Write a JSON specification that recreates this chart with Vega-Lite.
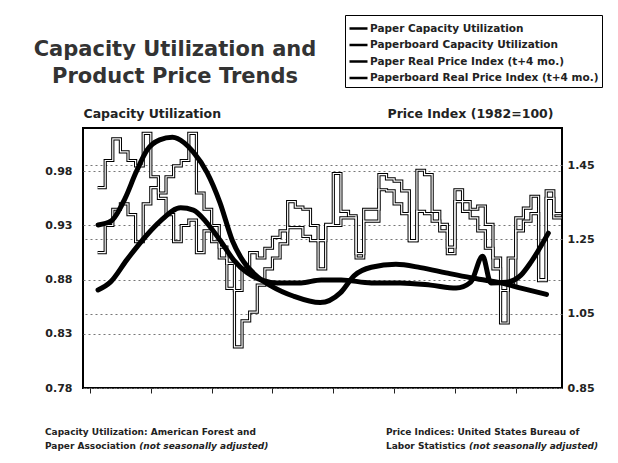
{
  "$schema": "https://vega.github.io/schema/vega-lite/v6.json",
  "width": 479,
  "height": 260,
  "autosize": {"type": "none"},
  "padding": {"left": 83, "top": 128, "right": 56, "bottom": 75},
  "background": "white",
  "title": {
    "text": ["Capacity Utilization and", "Product Price Trends"],
    "anchor": "start", "align": "center", "dx": 92, "frame": "group",
    "font": "DejaVu Sans", "fontSize": 21, "fontWeight": "bold", "color": "#333",
    "lineHeight": 27, "offset": 4, "dy": 76
  },
  "datasets": {
    "cap": [
      {"t": 1994.5, "board": 0.965, "paper": 0.905},
      {"t": 1994.5833, "board": 0.99, "paper": 0.93},
      {"t": 1994.6667, "board": 1.01, "paper": 0.945},
      {"t": 1994.75, "board": 0.998, "paper": 0.95},
      {"t": 1994.8333, "board": 0.99, "paper": 0.94},
      {"t": 1994.9167, "board": 0.985, "paper": 0.915},
      {"t": 1995.0, "board": 1.015, "paper": 0.95},
      {"t": 1995.0833, "board": 0.975, "paper": 0.965},
      {"t": 1995.1667, "board": 0.96, "paper": 0.955},
      {"t": 1995.25, "board": 0.975, "paper": 0.94},
      {"t": 1995.3333, "board": 0.985, "paper": 0.915},
      {"t": 1995.4167, "board": 0.99, "paper": 0.93},
      {"t": 1995.5, "board": 1.015, "paper": 0.935},
      {"t": 1995.5833, "board": 0.96, "paper": 0.905},
      {"t": 1995.6667, "board": 0.945, "paper": 0.925},
      {"t": 1995.75, "board": 0.93, "paper": 0.915},
      {"t": 1995.8333, "board": 0.91, "paper": 0.9},
      {"t": 1995.9167, "board": 0.895, "paper": 0.872},
      {"t": 1996.0, "board": 0.87, "paper": 0.818},
      {"t": 1996.0833, "board": 0.89, "paper": 0.842},
      {"t": 1996.1667, "board": 0.905, "paper": 0.85},
      {"t": 1996.25, "board": 0.9, "paper": 0.875},
      {"t": 1996.3333, "board": 0.909, "paper": 0.89},
      {"t": 1996.4167, "board": 0.919, "paper": 0.9},
      {"t": 1996.5, "board": 0.925, "paper": 0.913},
      {"t": 1996.5833, "board": 0.952, "paper": 0.928},
      {"t": 1996.6667, "board": 0.947, "paper": 0.928},
      {"t": 1996.75, "board": 0.945, "paper": 0.92},
      {"t": 1996.8333, "board": 0.93, "paper": 0.916},
      {"t": 1996.9167, "board": 0.916, "paper": 0.89},
      {"t": 1997.0, "board": 0.931, "paper": 0.93},
      {"t": 1997.0833, "board": 0.978, "paper": 0.93},
      {"t": 1997.1667, "board": 0.943, "paper": 0.937},
      {"t": 1997.25, "board": 0.939, "paper": 0.937},
      {"t": 1997.3333, "board": 0.904, "paper": 0.9},
      {"t": 1997.4167, "board": 0.945, "paper": 0.934},
      {"t": 1997.5, "board": 0.945, "paper": 0.934},
      {"t": 1997.5833, "board": 0.977, "paper": 0.963},
      {"t": 1997.6667, "board": 0.973, "paper": 0.962},
      {"t": 1997.75, "board": 0.971, "paper": 0.95},
      {"t": 1997.8333, "board": 0.962, "paper": 0.941},
      {"t": 1997.9167, "board": 0.916, "paper": 0.916},
      {"t": 1998.0, "board": 0.981, "paper": 0.943},
      {"t": 1998.0833, "board": 0.977, "paper": 0.941},
      {"t": 1998.1667, "board": 0.943, "paper": 0.934},
      {"t": 1998.25, "board": 0.931, "paper": 0.925},
      {"t": 1998.3333, "board": 0.904, "paper": 0.91},
      {"t": 1998.4167, "board": 0.963, "paper": 0.952},
      {"t": 1998.5, "board": 0.952, "paper": 0.943},
      {"t": 1998.5833, "board": 0.945, "paper": 0.937},
      {"t": 1998.6667, "board": 0.948, "paper": 0.925},
      {"t": 1998.75, "board": 0.931, "paper": 0.909},
      {"t": 1998.8333, "board": 0.9, "paper": 0.89},
      {"t": 1998.9167, "board": 0.84, "paper": 0.87},
      {"t": 1999.0, "board": 0.875, "paper": 0.9},
      {"t": 1999.0833, "board": 0.937, "paper": 0.925},
      {"t": 1999.1667, "board": 0.946, "paper": 0.934},
      {"t": 1999.25, "board": 0.957, "paper": 0.941},
      {"t": 1999.3333, "board": 0.879, "paper": 0.88},
      {"t": 1999.4167, "board": 0.962, "paper": 0.955},
      {"t": 1999.5, "board": 0.937, "paper": 0.941},
      {"t": 1999.5833, "board": 0.937, "paper": 0.941}
    ],
    "price": [
      {"s": "Paper Real Price Index (t+4 mo.)", "t": 1994.505, "p": 1.289},
      {"s": "Paper Real Price Index (t+4 mo.)", "t": 1994.65, "p": 1.3},
      {"s": "Paper Real Price Index (t+4 mo.)", "t": 1994.8, "p": 1.36},
      {"s": "Paper Real Price Index (t+4 mo.)", "t": 1994.92, "p": 1.43},
      {"s": "Paper Real Price Index (t+4 mo.)", "t": 1995.04, "p": 1.49},
      {"s": "Paper Real Price Index (t+4 mo.)", "t": 1995.18, "p": 1.518},
      {"s": "Paper Real Price Index (t+4 mo.)", "t": 1995.32, "p": 1.525},
      {"s": "Paper Real Price Index (t+4 mo.)", "t": 1995.45, "p": 1.51},
      {"s": "Paper Real Price Index (t+4 mo.)", "t": 1995.55, "p": 1.485},
      {"s": "Paper Real Price Index (t+4 mo.)", "t": 1995.7, "p": 1.43},
      {"s": "Paper Real Price Index (t+4 mo.)", "t": 1995.84, "p": 1.35},
      {"s": "Paper Real Price Index (t+4 mo.)", "t": 1995.98, "p": 1.245},
      {"s": "Paper Real Price Index (t+4 mo.)", "t": 1996.1, "p": 1.19},
      {"s": "Paper Real Price Index (t+4 mo.)", "t": 1996.25, "p": 1.15},
      {"s": "Paper Real Price Index (t+4 mo.)", "t": 1996.4, "p": 1.125},
      {"s": "Paper Real Price Index (t+4 mo.)", "t": 1996.65, "p": 1.097},
      {"s": "Paper Real Price Index (t+4 mo.)", "t": 1996.94, "p": 1.08},
      {"s": "Paper Real Price Index (t+4 mo.)", "t": 1997.16, "p": 1.106},
      {"s": "Paper Real Price Index (t+4 mo.)", "t": 1997.31, "p": 1.152},
      {"s": "Paper Real Price Index (t+4 mo.)", "t": 1997.5, "p": 1.175},
      {"s": "Paper Real Price Index (t+4 mo.)", "t": 1997.77, "p": 1.183},
      {"s": "Paper Real Price Index (t+4 mo.)", "t": 1998.04, "p": 1.174},
      {"s": "Paper Real Price Index (t+4 mo.)", "t": 1998.32, "p": 1.16},
      {"s": "Paper Real Price Index (t+4 mo.)", "t": 1998.59, "p": 1.147},
      {"s": "Paper Real Price Index (t+4 mo.)", "t": 1998.92, "p": 1.133},
      {"s": "Paper Real Price Index (t+4 mo.)", "t": 1999.14, "p": 1.119},
      {"s": "Paper Real Price Index (t+4 mo.)", "t": 1999.42, "p": 1.102},
      {"s": "Paperboard Real Price Index (t+4 mo.)", "t": 1994.505, "p": 1.114},
      {"s": "Paperboard Real Price Index (t+4 mo.)", "t": 1994.64, "p": 1.135},
      {"s": "Paperboard Real Price Index (t+4 mo.)", "t": 1994.82, "p": 1.195},
      {"s": "Paperboard Real Price Index (t+4 mo.)", "t": 1995.04, "p": 1.262},
      {"s": "Paperboard Real Price Index (t+4 mo.)", "t": 1995.19, "p": 1.3},
      {"s": "Paperboard Real Price Index (t+4 mo.)", "t": 1995.41, "p": 1.335},
      {"s": "Paperboard Real Price Index (t+4 mo.)", "t": 1995.55, "p": 1.329},
      {"s": "Paperboard Real Price Index (t+4 mo.)", "t": 1995.7, "p": 1.294},
      {"s": "Paperboard Real Price Index (t+4 mo.)", "t": 1995.85, "p": 1.245},
      {"s": "Paperboard Real Price Index (t+4 mo.)", "t": 1995.99, "p": 1.195},
      {"s": "Paperboard Real Price Index (t+4 mo.)", "t": 1996.14, "p": 1.16},
      {"s": "Paperboard Real Price Index (t+4 mo.)", "t": 1996.29, "p": 1.141},
      {"s": "Paperboard Real Price Index (t+4 mo.)", "t": 1996.47, "p": 1.133},
      {"s": "Paperboard Real Price Index (t+4 mo.)", "t": 1996.73, "p": 1.133},
      {"s": "Paperboard Real Price Index (t+4 mo.)", "t": 1996.95, "p": 1.141},
      {"s": "Paperboard Real Price Index (t+4 mo.)", "t": 1997.17, "p": 1.141},
      {"s": "Paperboard Real Price Index (t+4 mo.)", "t": 1997.5, "p": 1.133},
      {"s": "Paperboard Real Price Index (t+4 mo.)", "t": 1997.82, "p": 1.133},
      {"s": "Paperboard Real Price Index (t+4 mo.)", "t": 1998.15, "p": 1.127},
      {"s": "Paperboard Real Price Index (t+4 mo.)", "t": 1998.43, "p": 1.119},
      {"s": "Paperboard Real Price Index (t+4 mo.)", "t": 1998.59, "p": 1.135},
      {"s": "Paperboard Real Price Index (t+4 mo.)", "t": 1998.72, "p": 1.205},
      {"s": "Paperboard Real Price Index (t+4 mo.)", "t": 1998.81, "p": 1.133},
      {"s": "Paperboard Real Price Index (t+4 mo.)", "t": 1998.98, "p": 1.135},
      {"s": "Paperboard Real Price Index (t+4 mo.)", "t": 1999.14, "p": 1.154},
      {"s": "Paperboard Real Price Index (t+4 mo.)", "t": 1999.25, "p": 1.189},
      {"s": "Paperboard Real Price Index (t+4 mo.)", "t": 1999.44, "p": 1.267}
    ],
    "notes": [
      {"style": "n", "t": 1993.923, "y": 0.7365, "text": "Capacity Utilization: American Forest and"},
      {"style": "n", "t": 1993.923, "y": 0.7235, "text": "Paper Association"},
      {"style": "i", "t": 1994.956, "y": 0.7235, "text": "(not seasonally adjusted)"},
      {"style": "n", "t": 1997.66, "y": 0.7365, "text": "Price Indices: United States Bureau of"},
      {"style": "n", "t": 1997.66, "y": 0.7235, "text": "Labor Statistics"},
      {"style": "i", "t": 1998.57, "y": 0.7235, "text": "(not seasonally adjusted)"}
    ]
  },
  "layer": [
    {
      "data": {"name": "cap"},
      "transform": [{"fold": ["board", "paper"], "as": ["series", "v"]}],
      "mark": {"type": "line", "interpolate": "step-after", "color": "black", "strokeWidth": 3.2},
      "encoding": {
        "x": {
          "field": "t", "type": "quantitative",
          "scale": {"domain": [1994.34, 1999.59], "nice": false, "zero": false},
          "axis": {
            "title": null,
            "values": [1994.4167, 1994.5, 1994.5833, 1994.6667, 1994.75, 1994.8333, 1994.9167,
              1995, 1995.0833, 1995.1667, 1995.25, 1995.3333, 1995.4167, 1995.5, 1995.5833, 1995.6667, 1995.75, 1995.8333, 1995.9167,
              1996, 1996.0833, 1996.1667, 1996.25, 1996.3333, 1996.4167, 1996.5, 1996.5833, 1996.6667, 1996.75, 1996.8333, 1996.9167,
              1997, 1997.0833, 1997.1667, 1997.25, 1997.3333, 1997.4167, 1997.5, 1997.5833, 1997.6667, 1997.75, 1997.8333, 1997.9167,
              1998, 1998.0833, 1998.1667, 1998.25, 1998.3333, 1998.4167, 1998.5, 1998.5833, 1998.6667, 1998.75, 1998.8333, 1998.9167,
              1999, 1999.0833, 1999.1667, 1999.25, 1999.3333, 1999.4167, 1999.5, 1999.5833],
            "labelExpr": "abs(datum.value - round(datum.value)) < 0.01 ? format(datum.value, 'd') : ''",
            "grid": false, "domain": false, "ticks": true, "tickSize": 5, "tickColor": "#222", "tickWidth": 1,
            "labelPadding": 7, "labelOverlap": false, "labelFlush": false
          }
        },
        "y": {
          "field": "v", "type": "quantitative",
          "scale": {"domain": [0.78, 1.02], "nice": false, "zero": false},
          "axis": {
            "orient": "left", "values": [0.78, 0.83, 0.88, 0.93, 0.98], "format": ".2f",
            "ticks": false, "domain": false, "labelPadding": 11,
            "grid": true, "gridDash": [2, 3], "gridColor": "#777",
            "title": "Capacity Utilization", "titleAngle": 0, "titleAlign": "left",
            "titleBaseline": "alphabetic", "titleX": 0, "titleY": -11
          }
        },
        "detail": {"field": "series"}
      }
    },
    {
      "data": {"name": "cap"},
      "transform": [{"fold": ["board", "paper"], "as": ["series", "v"]}],
      "mark": {"type": "line", "interpolate": "step-after", "color": "white", "strokeWidth": 1.2},
      "encoding": {
        "x": {"field": "t", "type": "quantitative", "scale": {"domain": [1994.34, 1999.59], "nice": false, "zero": false}},
        "y": {"field": "v", "type": "quantitative", "scale": {"domain": [0.78, 1.02], "nice": false, "zero": false}, "axis": null},
        "detail": {"field": "series"}
      }
    },
    {
      "data": {"name": "price"},
      "mark": {"type": "line", "interpolate": "monotone", "strokeWidth": 5, "strokeCap": "round"},
      "encoding": {
        "x": {"field": "t", "type": "quantitative", "scale": {"domain": [1994.34, 1999.59], "nice": false, "zero": false}},
        "y": {
          "field": "p", "type": "quantitative",
          "scale": {"domain": [0.85, 1.55], "nice": false, "zero": false},
          "axis": {
            "orient": "right", "values": [0.85, 1.05, 1.25, 1.45], "format": ".2f",
            "ticks": false, "domain": false, "labelPadding": 5,
            "grid": true, "gridDash": [2, 3], "gridColor": "#777",
            "title": "Price Index (1982=100)", "titleAngle": 0, "titleAlign": "right",
            "titleBaseline": "alphabetic", "titleX": -9, "titleY": -11
          }
        },
        "color": {
          "field": "s", "type": "nominal",
          "scale": {
            "domain": ["Paper Capacity Utilization", "Paperboard Capacity Utilization", "Paper Real Price Index (t+4 mo.)", "Paperboard Real Price Index (t+4 mo.)"],
            "range": ["black", "black", "black", "black"]
          },
          "legend": {"title": null}
        }
      }
    },
    {
      "data": {"name": "notes"},
      "transform": [{"filter": "datum.style == 'n'"}],
      "mark": {"type": "text", "align": "left", "baseline": "alphabetic", "font": "DejaVu Sans", "fontWeight": "bold", "fontSize": 9, "color": "#222"},
      "encoding": {
        "x": {"field": "t", "type": "quantitative", "scale": {"domain": [1994.34, 1999.59], "nice": false, "zero": false}},
        "y": {"field": "y", "type": "quantitative", "scale": {"domain": [0.78, 1.02], "nice": false, "zero": false}, "axis": null},
        "text": {"field": "text"}
      }
    },
    {
      "data": {"name": "notes"},
      "transform": [{"filter": "datum.style == 'i'"}],
      "mark": {"type": "text", "align": "left", "baseline": "alphabetic", "font": "DejaVu Sans", "fontWeight": "bold", "fontStyle": "italic", "fontSize": 9, "color": "#222"},
      "encoding": {
        "x": {"field": "t", "type": "quantitative", "scale": {"domain": [1994.34, 1999.59], "nice": false, "zero": false}},
        "y": {"field": "y", "type": "quantitative", "scale": {"domain": [0.78, 1.02], "nice": false, "zero": false}, "axis": null},
        "text": {"field": "text"}
      }
    }
  ],
  "resolve": {"scale": {"y": "independent"}, "axis": {"y": "independent"}},
  "config": {
    "view": {"stroke": "black", "strokeWidth": 2},
    "font": "DejaVu Sans",
    "axis": {
      "labelFont": "DejaVu Sans", "labelFontWeight": "bold", "labelFontSize": 11, "labelColor": "#222",
      "titleFont": "DejaVu Sans", "titleFontWeight": "bold", "titleFontSize": 12.5, "titleColor": "#222"
    },
    "legend": {
      "orient": "none", "legendX": 262, "legendY": -113,
      "strokeColor": "black", "fillColor": "white", "padding": 3,
      "symbolType": "stroke", "symbolSize": 324, "symbolStrokeColor": "black", "symbolStrokeWidth": 2.5,
      "labelFont": "DejaVu Sans", "labelFontWeight": "bold", "labelFontSize": 10.5, "labelColor": "#222",
      "labelLimit": 400, "rowPadding": 0.5, "symbolOffset": 0, "labelOffset": 1
    }
  }
}
